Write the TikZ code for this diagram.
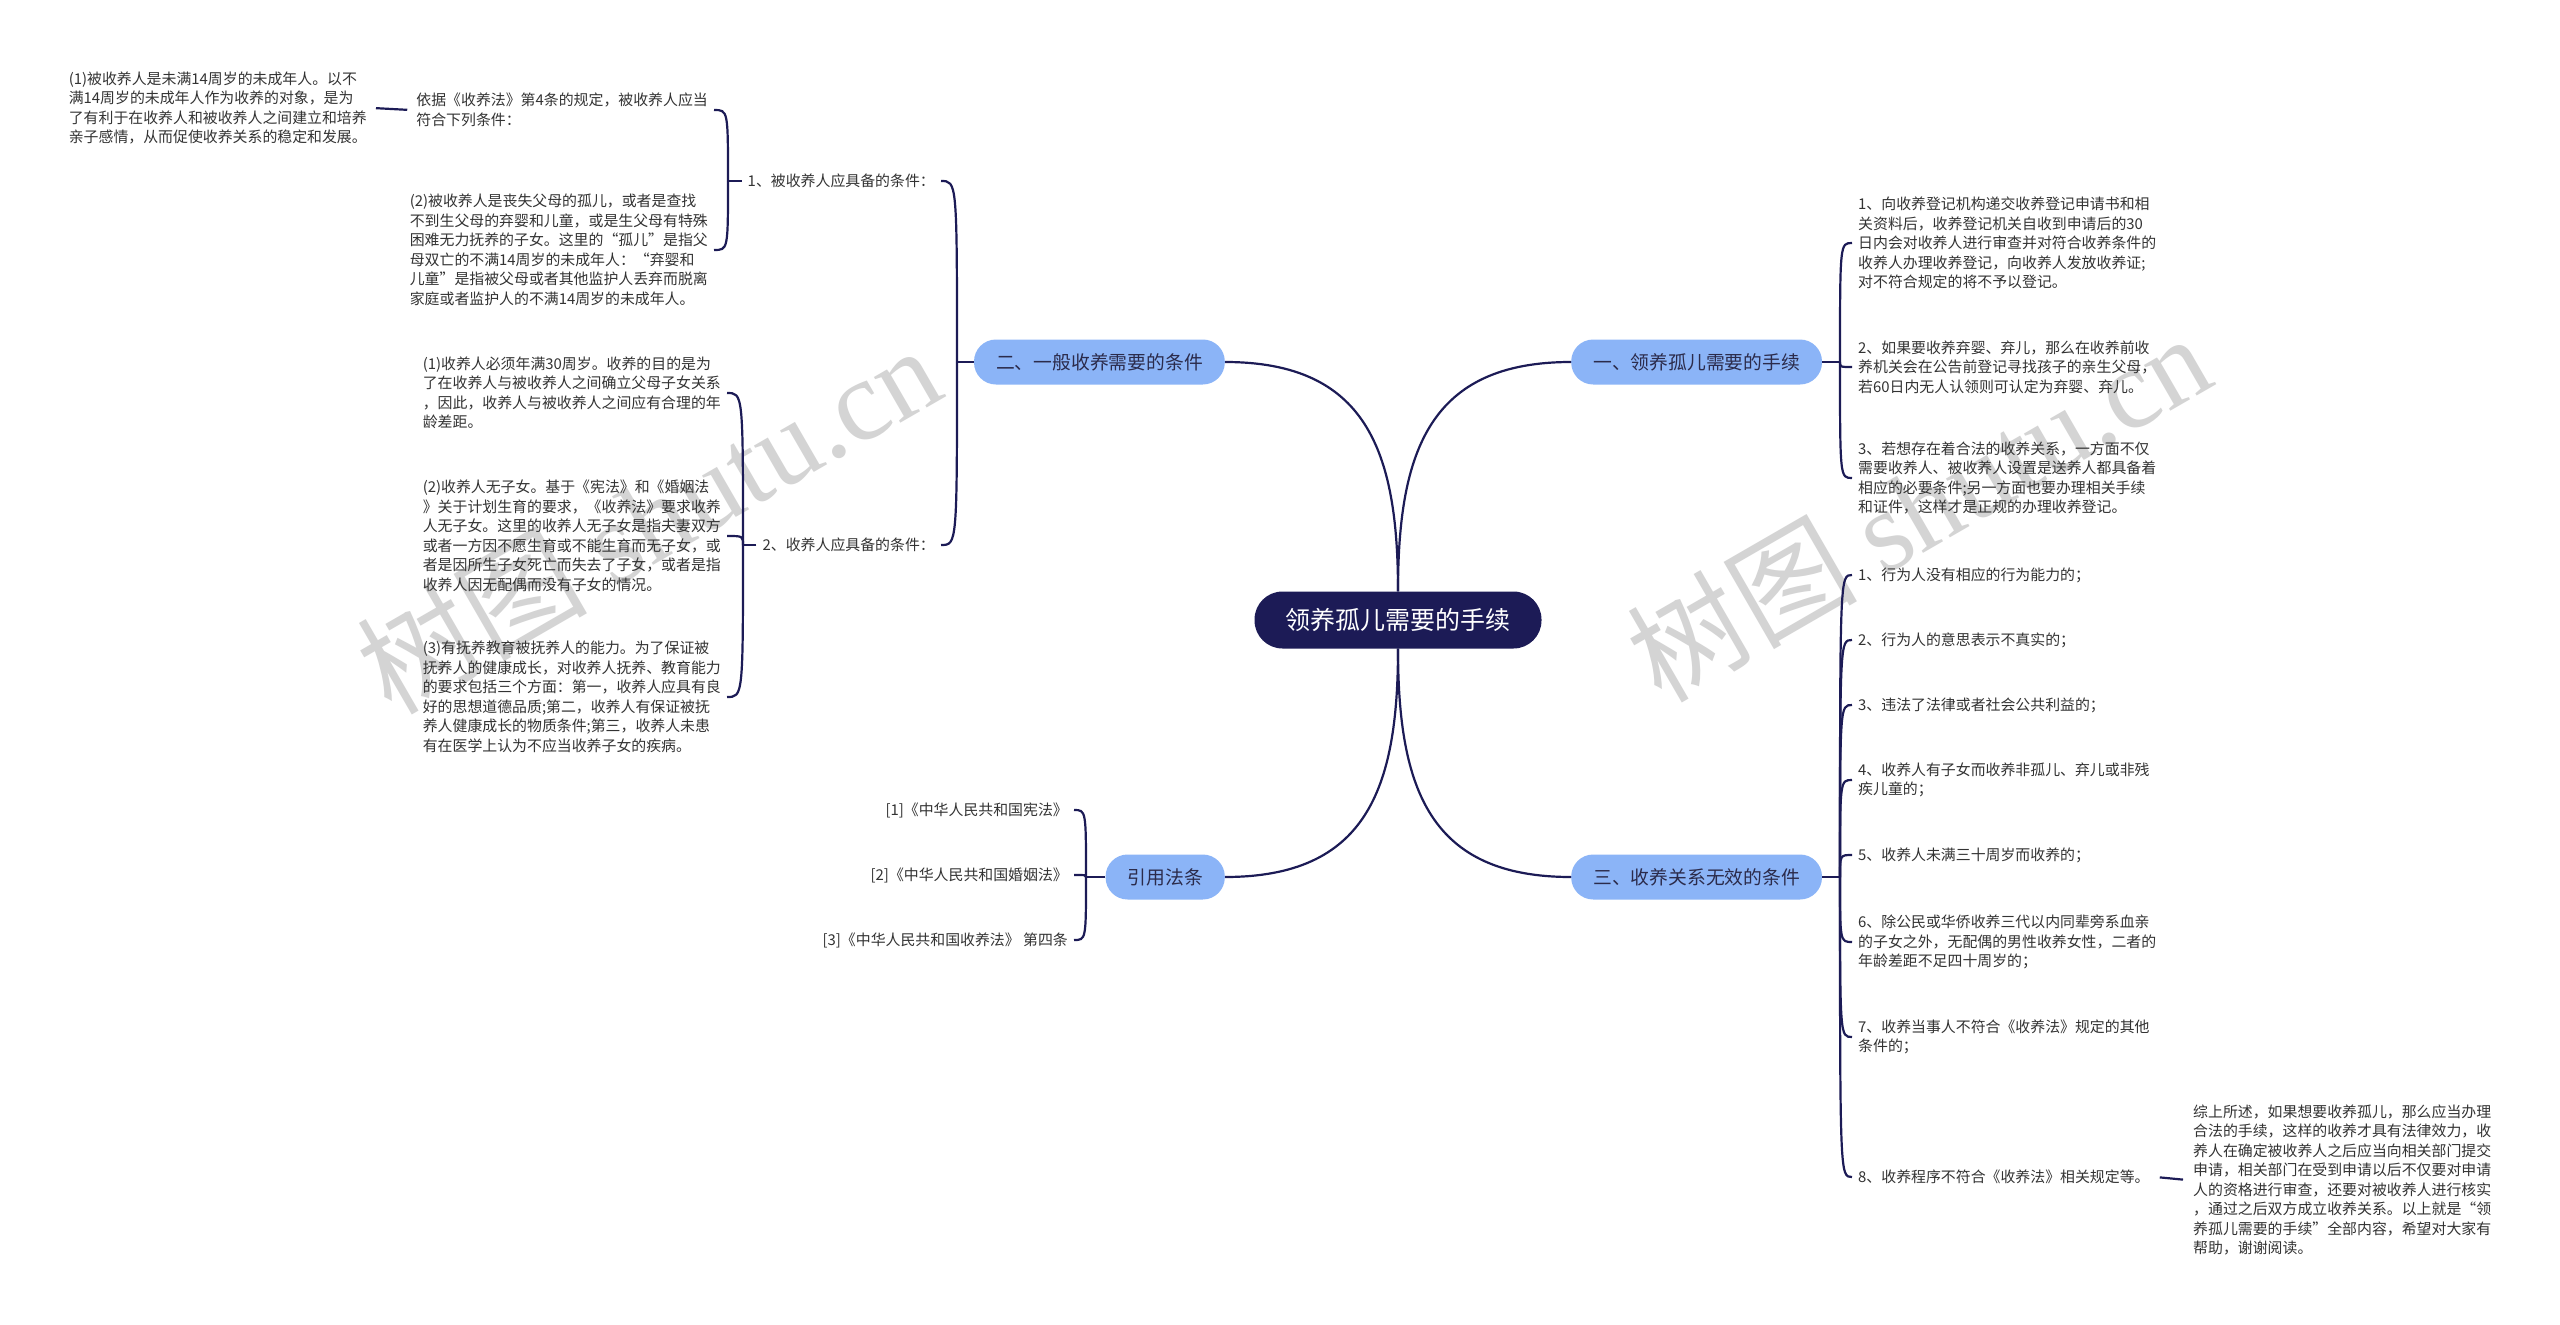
\documentclass[tikz,border=0pt]{standalone}
\usepackage{fontspec}
\setmainfont{Noto Sans CJK SC}
\newfontfamily\wmlatin{Liberation Serif}
\definecolor{navy}{HTML}{1C1B56}
\definecolor{lblue}{HTML}{8BB4F7}
\definecolor{boxtext}{HTML}{2B2B4B}
\definecolor{leaftext}{HTML}{333333}
\definecolor{wmgray}{HTML}{D4D4D4}
\tikzset{
  rootbox/.style={rounded corners=28pt, fill=navy, text=white, minimum height=57pt, inner xsep=31pt, inner ysep=0pt, font=\fontsize{25}{30}\selectfont},
  mainbox/.style={rounded corners=22pt, fill=lblue, text=boxtext, minimum height=45pt, inner xsep=22pt, inner ysep=0pt, font=\fontsize{18.8}{22}\selectfont},
  leaf/.style={text=leaftext, inner xsep=6pt, inner ysep=0pt, align=left, font=\fontsize{14.9}{19.5}\selectfont},
  link/.style={draw=navy, line width=2.2pt},
  wmark/.style={text=wmgray, font=\fontsize{115}{120}\selectfont, rotate=30, inner sep=0pt},
}
\newcommand\brk[2]{\draw[link] (#1) .. controls (#1 |- #2) and (#1 |- #2) .. (#2);}
\begin{document}
\begin{tikzpicture}[x=1pt,y=-1pt]
\fill[white] (0,0) rectangle (2560,1325);
\useasboundingbox (0,0) rectangle (2560,1325);

% watermarks
\node[wmark] (wm1) at (648,518) {树图 {\wmlatin shutu.cn}};
\node[wmark] (wm2) at (1918,506) {树图 {\wmlatin shutu.cn}};

% root and main branches
\node[rootbox] (root) at (1398,620) {领养孤儿需要的手续};
\node[mainbox, anchor=west] (m1) at (1571,362) {一、领养孤儿需要的手续};
\node[mainbox, anchor=west] (m3) at (1571,877) {三、收养关系无效的条件};
\node[mainbox, anchor=east] (m2) at (1225,362) {二、一般收养需要的条件};
\node[mainbox, anchor=east] (m4) at (1225,877) {引用法条};

\draw[link] (root.north) .. controls +(0,-141) and +(-141,0) .. (m1.west);
\draw[link] (root.north) .. controls +(0,-141) and +(141,0) .. (m2.east);
\draw[link] (root.south) .. controls +(0,141) and +(-141,0) .. (m3.west);
\draw[link] (root.south) .. controls +(0,141) and +(141,0) .. (m4.east);

% ---- right branch 1
\coordinate (j1) at (1840,362);
\node[leaf, anchor=west] (a1) at (1852,243) {1、向收养登记机构递交收养登记申请书和相\\关资料后，收养登记机关自收到申请后的30\\日内会对收养人进行审查并对符合收养条件的\\收养人办理收养登记，向收养人发放收养证;\\对不符合规定的将不予以登记。};
\node[leaf, anchor=west] (a2) at (1852,367) {2、如果要收养弃婴、弃儿，那么在收养前收\\养机关会在公告前登记寻找孩子的亲生父母，\\若60日内无人认领则可认定为弃婴、弃儿。};
\node[leaf, anchor=west] (a3) at (1852,478) {3、若想存在着合法的收养关系，一方面不仅\\需要收养人、被收养人设置是送养人都具备着\\相应的必要条件;另一方面也要办理相关手续\\和证件，这样才是正规的办理收养登记。};
\draw[link] (m1.east) -- (j1);
\brk{j1}{a1.west}
\brk{j1}{a2.west}
\brk{j1}{a3.west}

% ---- right branch 3
\coordinate (j3) at (1840,877);
\node[leaf, anchor=west] (r1) at (1852,575) {1、行为人没有相应的行为能力的；};
\node[leaf, anchor=west] (r2) at (1852,640) {2、行为人的意思表示不真实的；};
\node[leaf, anchor=west] (r3) at (1852,705) {3、违法了法律或者社会公共利益的；};
\node[leaf, anchor=west] (r4) at (1852,780) {4、收养人有子女而收养非孤儿、弃儿或非残\\疾儿童的；};
\node[leaf, anchor=west] (r5) at (1852,855) {5、收养人未满三十周岁而收养的；};
\node[leaf, anchor=west] (r6) at (1852,942) {6、除公民或华侨收养三代以内同辈旁系血亲\\的子女之外，无配偶的男性收养女性，二者的\\年龄差距不足四十周岁的；};
\node[leaf, anchor=west] (r7) at (1852,1037) {7、收养当事人不符合《收养法》规定的其他\\条件的；};
\node[leaf, anchor=west] (r8) at (1852,1177) {8、收养程序不符合《收养法》相关规定等。};
\node[leaf, anchor=west] (sum) at (2187,1180) {综上所述，如果想要收养孤儿，那么应当办理\\合法的手续，这样的收养才具有法律效力，收\\养人在确定被收养人之后应当向相关部门提交\\申请，相关部门在受到申请以后不仅要对申请\\人的资格进行审查，还要对被收养人进行核实\\，通过之后双方成立收养关系。以上就是“领\\养孤儿需要的手续”全部内容，希望对大家有\\帮助，谢谢阅读。};
\draw[link] (m3.east) -- (j3);
\brk{j3}{r1.west}
\brk{j3}{r2.west}
\brk{j3}{r3.west}
\brk{j3}{r4.west}
\brk{j3}{r5.west}
\brk{j3}{r6.west}
\brk{j3}{r7.west}
\brk{j3}{r8.west}
\draw[link, shorten <=4pt, shorten >=4pt] (r8.east) -- (sum.west);

% ---- left branch 2
\coordinate (j2) at (957,362);
\node[leaf, anchor=east] (L1) at (941,181) {1、被收养人应具备的条件：};
\node[leaf, anchor=east] (L2) at (941,545) {2、收养人应具备的条件：};
\draw[link] (m2.west) -- (j2);
\brk{j2}{L1.east}
\brk{j2}{L2.east}

\coordinate (jL1) at (728,181);
\node[leaf, anchor=east] (L1a) at (714,110) {依据《收养法》第4条的规定，被收养人应当\\符合下列条件：};
\node[leaf, anchor=east] (L1b) at (714,250) {(2)被收养人是丧失父母的孤儿，或者是查找\\不到生父母的弃婴和儿童，或是生父母有特殊\\困难无力抚养的子女。这里的“孤儿”是指父\\母双亡的不满14周岁的未成年人：“弃婴和\\儿童”是指被父母或者其他监护人丢弃而脱离\\家庭或者监护人的不满14周岁的未成年人。};
\node[leaf, anchor=east] (L1a0) at (373,108) {(1)被收养人是未满14周岁的未成年人。以不\\满14周岁的未成年人作为收养的对象，是为\\了有利于在收养人和被收养人之间建立和培养\\亲子感情，从而促使收养关系的稳定和发展。};
\draw[link] (L1.west) -- (jL1);
\brk{jL1}{L1a.east}
\brk{jL1}{L1b.east}
\draw[link, shorten <=3pt, shorten >=3pt] (L1a.west) -- (L1a0.east);

\coordinate (jL2) at (743,545);
\node[leaf, anchor=east] (L2a) at (727,393) {(1)收养人必须年满30周岁。收养的目的是为\\了在收养人与被收养人之间确立父母子女关系\\，因此，收养人与被收养人之间应有合理的年\\龄差距。};
\node[leaf, anchor=east] (L2b) at (727,536) {(2)收养人无子女。基于《宪法》和《婚姻法\\》关于计划生育的要求，《收养法》要求收养\\人无子女。这里的收养人无子女是指夫妻双方\\或者一方因不愿生育或不能生育而无子女，或\\者是因所生子女死亡而失去了子女，或者是指\\收养人因无配偶而没有子女的情况。};
\node[leaf, anchor=east] (L2c) at (727,697) {(3)有抚养教育被抚养人的能力。为了保证被\\抚养人的健康成长，对收养人抚养、教育能力\\的要求包括三个方面：第一，收养人应具有良\\好的思想道德品质;第二，收养人有保证被抚\\养人健康成长的物质条件;第三，收养人未患\\有在医学上认为不应当收养子女的疾病。};
\draw[link] (L2.west) -- (jL2);
\brk{jL2}{L2a.east}
\brk{jL2}{L2b.east}
\brk{jL2}{L2c.east}

% ---- left branch 4
\coordinate (j4) at (1086,877);
\node[leaf, anchor=east] (c1) at (1074,810) {[1]《中华人民共和国宪法》};
\node[leaf, anchor=east] (c2) at (1074,875) {[2]《中华人民共和国婚姻法》};
\node[leaf, anchor=east] (c3) at (1074,940) {[3]《中华人民共和国收养法》 第四条};
\draw[link] (m4.west) -- (j4);
\brk{j4}{c1.east}
\brk{j4}{c2.east}
\brk{j4}{c3.east}
\end{tikzpicture}
\end{document}
